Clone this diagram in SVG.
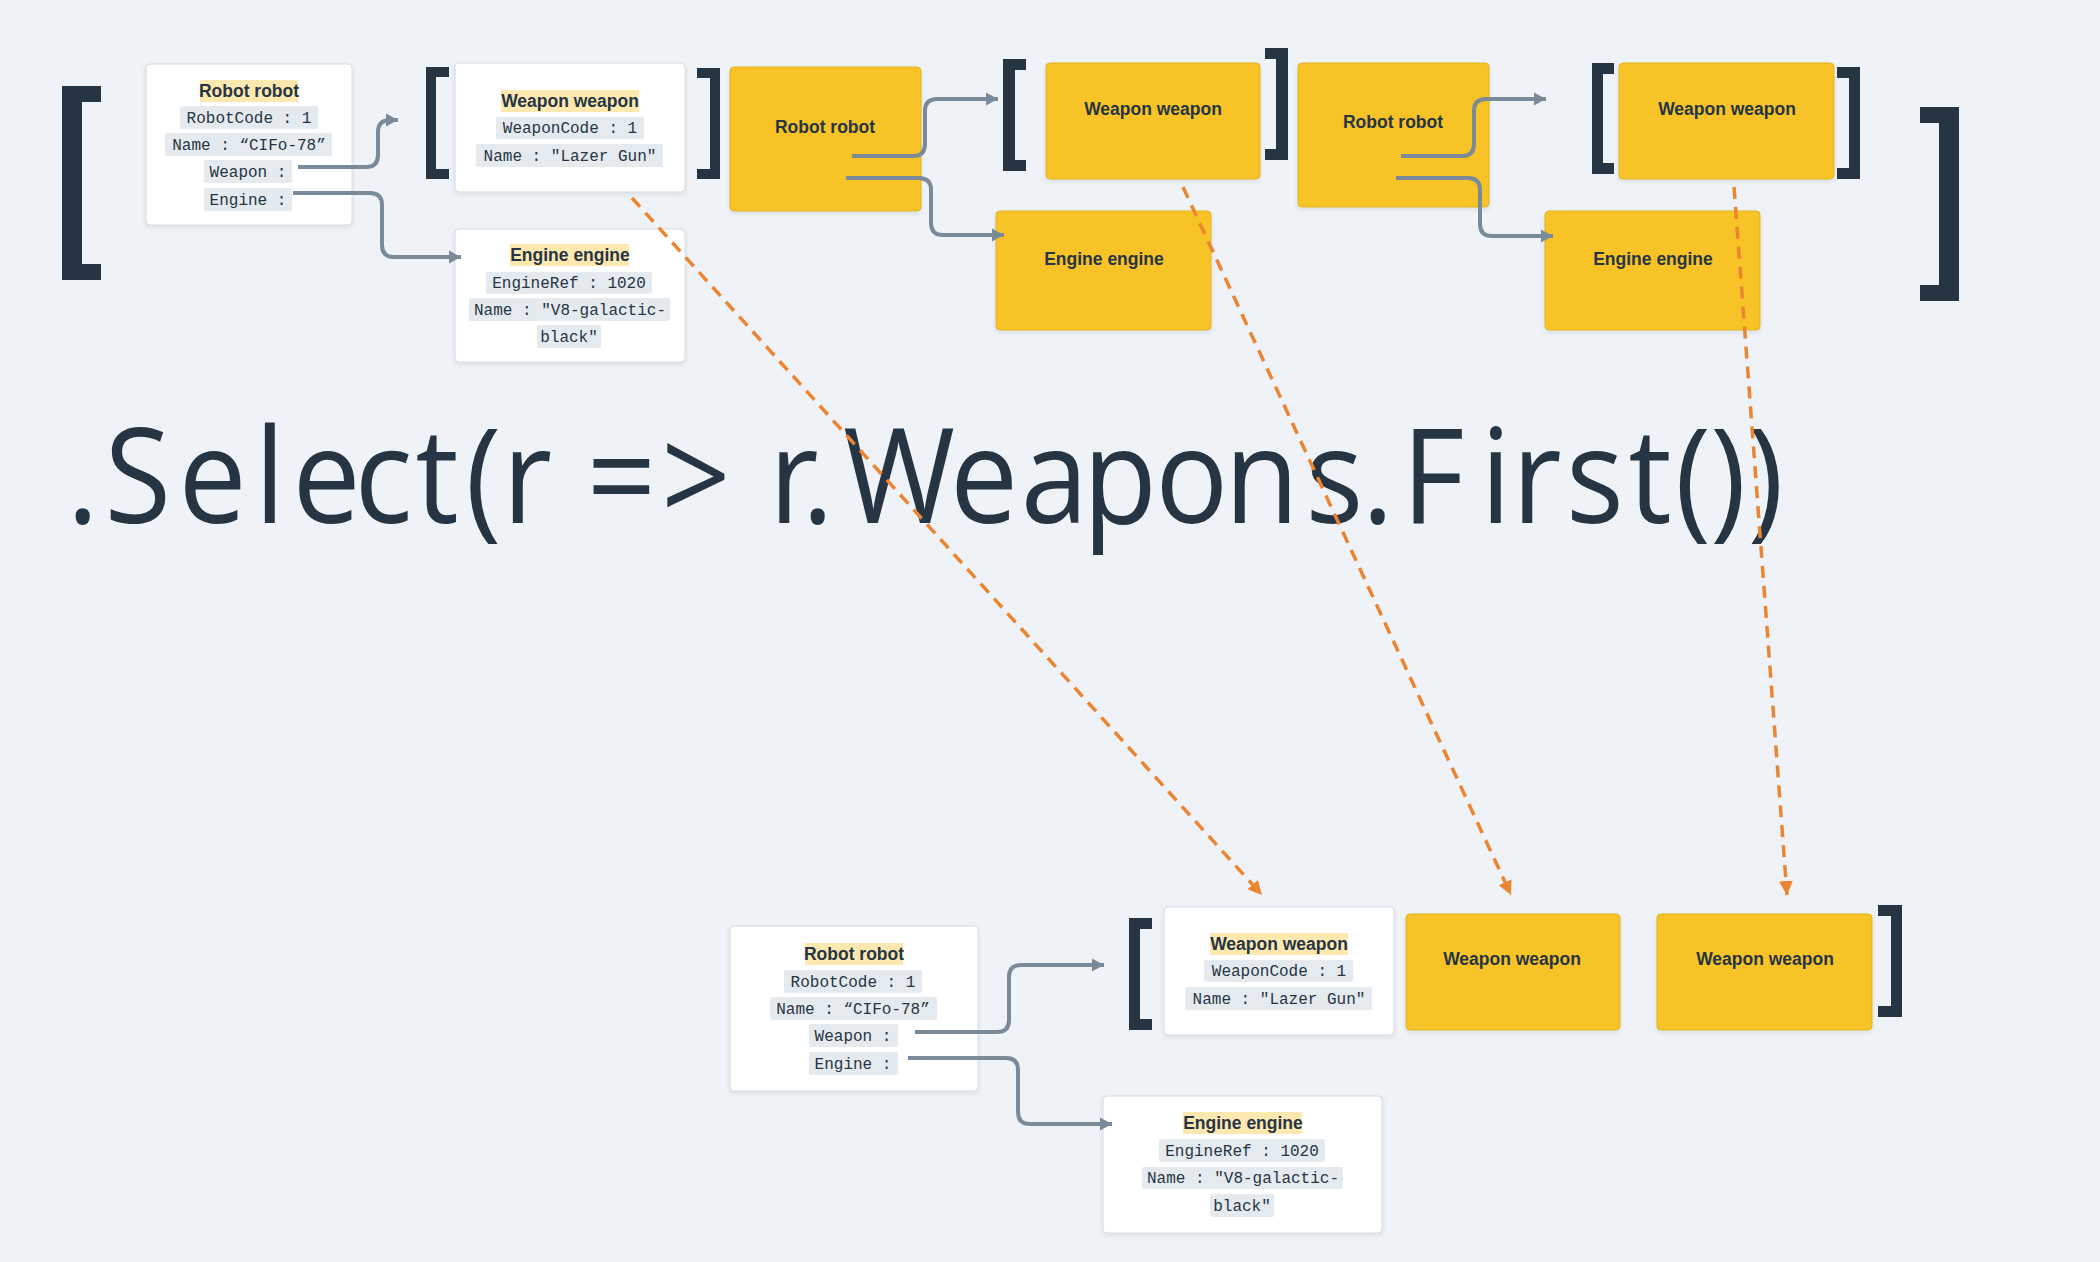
<svg xmlns="http://www.w3.org/2000/svg" width="2100" height="1262" viewBox="0 0 2100 1262">
<defs>
<filter id="sh" x="-10%" y="-10%" width="120%" height="130%">
<feDropShadow dx="0" dy="2" stdDeviation="2" flood-color="#1f2d3a" flood-opacity="0.10"/>
</filter>
<marker id="ga" markerUnits="userSpaceOnUse" markerWidth="14" markerHeight="14" refX="12" refY="6.5" orient="auto" viewBox="0 0 14 13">
<path d="M0,0 L12,6.5 L0,13 z" fill="#7b8a99"/>
</marker>
<marker id="oa" markerUnits="userSpaceOnUse" markerWidth="16" markerHeight="16" refX="14" refY="7" orient="auto" viewBox="0 0 16 14">
<path d="M0,0 L14,7 L0,14 z" fill="#ec8532"/>
</marker>
</defs>
<style>
.wc{fill:#ffffff;stroke:#d6dbe0;stroke-width:1;filter:url(#sh)}
.yc{fill:#f7c325;stroke:#e2b322;stroke-width:1;filter:url(#sh)}
.hl{fill:#fde9b0}
.mb{fill:#e5eaef}
.br{fill:#263544}
.t{font-family:"Liberation Sans",Arial,sans-serif;font-weight:700;font-size:17.5px;fill:#263544;text-anchor:middle}
.m{font-family:"Liberation Mono","Courier New",monospace;font-size:16px;fill:#263544;text-anchor:middle}
.big{font-family:"Open Sans","Noto Sans",sans-serif;font-size:132px;fill:#263544}
.gc{fill:none;stroke:#7b8a99;stroke-width:4;marker-end:url(#ga)}
.oc{fill:none;stroke:#ec8532;stroke-width:3.5;stroke-dasharray:12 8;marker-end:url(#oa)}
</style>
<rect x="0" y="0" width="2100" height="1262" fill="#eff3f7"/>

<g id="brackets">
<path class="br" d="M62,86 H101 V102 H82 V264 H101 V280 H62 Z"/>
<path class="br" d="M1959,107 H1920 V123 H1939 V285 H1920 V301 H1959 Z"/>
<path class="br" d="M426,67 H449 V77 H436 V169 H449 V179 H426 Z"/>
<path class="br" d="M720,68 H697 V78 H710 V169 H697 V179 H720 Z"/>
<path class="br" d="M1003,59 H1026 V70 H1015 V160 H1026 V171 H1003 Z"/>
<path class="br" d="M1288,48 H1265 V59 H1276 V149 H1265 V160 H1288 Z"/>
<path class="br" d="M1592,63 H1614 V74 H1603 V163 H1614 V174 H1592 Z"/>
<path class="br" d="M1860,67 H1837 V78 H1849 V168 H1837 V179 H1860 Z"/>
<path class="br" d="M1129,918 H1152 V929 H1140 V1019 H1152 V1030 H1129 Z"/>
<path class="br" d="M1902,905 H1878 V916 H1891 V1006 H1878 V1017 H1902 Z"/>
</g>

<g id="robot-top">
<rect class="wc" x="146" y="64" width="206" height="161" rx="4"/>
<rect class="hl" x="200" y="80" width="98" height="22"/>
<text class="t" x="249" y="97">Robot robot</text>
<rect class="mb" x="180" y="106" width="138" height="23" rx="2"/>
<text class="m" x="249" y="123">RobotCode : 1</text>
<rect class="mb" x="165" y="133" width="167" height="23" rx="2"/>
<text class="m" x="249" y="150">Name : “CIFo-78”</text>
<rect class="mb" x="204" y="160" width="88" height="23" rx="2"/>
<text class="m" x="248" y="177">Weapon :</text>
<rect class="mb" x="204" y="188" width="88" height="23" rx="2"/>
<text class="m" x="248" y="205">Engine :</text>
</g>

<g id="weapon-top">
<rect class="wc" x="455" y="63" width="230" height="129" rx="4"/>
<rect class="hl" x="501" y="90" width="138" height="22"/>
<text class="t" x="570" y="107">Weapon weapon</text>
<rect class="mb" x="496" y="117" width="148" height="22" rx="2"/>
<text class="m" x="570" y="133">WeaponCode : 1</text>
<rect class="mb" x="476" y="144" width="187" height="23" rx="2"/>
<text class="m" x="570" y="161">Name : "Lazer Gun"</text>
</g>

<g id="engine-top">
<rect class="wc" x="455" y="229" width="230" height="133" rx="4"/>
<rect class="hl" x="510" y="244" width="119" height="22"/>
<text class="t" x="570" y="261">Engine engine</text>
<rect class="mb" x="486" y="272" width="166" height="22" rx="2"/>
<text class="m" x="569" y="288">EngineRef : 1020</text>
<rect class="mb" x="469" y="298" width="201" height="23" rx="2"/>
<text class="m" x="570" y="315">Name : "V8-galactic-</text>
<rect class="mb" x="537" y="325" width="64" height="23" rx="2"/>
<text class="m" x="569" y="342">black"</text>
</g>

<g id="robot-y1">
<rect class="yc" x="730" y="67" width="191" height="144" rx="4"/>
<text class="t" x="825" y="133">Robot robot</text>
</g>
<g id="weapon-y1">
<rect class="yc" x="1046" y="63" width="214" height="116" rx="4"/>
<text class="t" x="1153" y="115">Weapon weapon</text>
</g>
<g id="engine-y1">
<rect class="yc" x="996" y="211" width="215" height="119" rx="4"/>
<text class="t" x="1104" y="265">Engine engine</text>
</g>
<g id="robot-y2">
<rect class="yc" x="1298" y="63" width="191" height="144" rx="4"/>
<text class="t" x="1393" y="128">Robot robot</text>
</g>
<g id="weapon-y2">
<rect class="yc" x="1619" y="63" width="215" height="116" rx="4"/>
<text class="t" x="1727" y="115">Weapon weapon</text>
</g>
<g id="engine-y2">
<rect class="yc" x="1545" y="211" width="215" height="119" rx="4"/>
<text class="t" x="1653" y="265">Engine engine</text>
</g>

<g id="robot-bottom">
<rect class="wc" x="730" y="926" width="248" height="165" rx="4"/>
<rect class="hl" x="805" y="943" width="98" height="22"/>
<text class="t" x="854" y="960">Robot robot</text>
<rect class="mb" x="784" y="970" width="138" height="23" rx="2"/>
<text class="m" x="853" y="987">RobotCode : 1</text>
<rect class="mb" x="770" y="997" width="167" height="23" rx="2"/>
<text class="m" x="853" y="1014">Name : “CIFo-78”</text>
<rect class="mb" x="809" y="1024" width="89" height="23" rx="2"/>
<text class="m" x="853" y="1041">Weapon :</text>
<rect class="mb" x="809" y="1052" width="89" height="23" rx="2"/>
<text class="m" x="853" y="1069">Engine :</text>
</g>

<g id="weapon-bottom">
<rect class="wc" x="1164" y="907" width="230" height="128" rx="4"/>
<rect class="hl" x="1210" y="933" width="138" height="22"/>
<text class="t" x="1279" y="950">Weapon weapon</text>
<rect class="mb" x="1204" y="960" width="149" height="22" rx="2"/>
<text class="m" x="1279" y="976">WeaponCode : 1</text>
<rect class="mb" x="1185" y="987" width="187" height="23" rx="2"/>
<text class="m" x="1279" y="1004">Name : "Lazer Gun"</text>
</g>

<g id="engine-bottom">
<rect class="wc" x="1103" y="1096" width="279" height="137" rx="4"/>
<rect class="hl" x="1183" y="1112" width="119" height="22"/>
<text class="t" x="1243" y="1129">Engine engine</text>
<rect class="mb" x="1159" y="1139" width="166" height="23" rx="2"/>
<text class="m" x="1242" y="1156">EngineRef : 1020</text>
<rect class="mb" x="1142" y="1167" width="201" height="22" rx="2"/>
<text class="m" x="1243" y="1183">Name : "V8-galactic-</text>
<rect class="mb" x="1210" y="1194" width="64" height="23" rx="2"/>
<text class="m" x="1242" y="1211">black"</text>
</g>

<g id="weapon-yb1">
<rect class="yc" x="1406" y="914" width="214" height="116" rx="4"/>
<text class="t" x="1512" y="965">Weapon weapon</text>
</g>
<g id="weapon-yb2">
<rect class="yc" x="1657" y="914" width="215" height="116" rx="4"/>
<text class="t" x="1765" y="965">Weapon weapon</text>
</g>

<text id="caption" class="big" transform="scale(0.92 1)" y="523" x="72.6 113.7 194 276.6 317.9 385.2 451.5 505.9 546.1 650 637.7 718.7 830 835.8 871.5 916.3 1032.6 1109.5 1176.9 1255.8 1331 1419.1 1480.2 1523.6 1609.3 1643.4 1702.3 1770 1820.6 1858.9 1899.7">.Select(r =&gt; r.Weapons.First())</text>

<g id="connectors">
<path class="gc" d="M298,167 H366 Q378,167 378,155 V132 Q378,120 390,120 H398"/>
<path class="gc" d="M293,193 H370 Q382,193 382,205 V245 Q382,257 394,257 H461"/>
<path class="gc" d="M852,156 H913 Q925,156 925,144 V111 Q925,99 937,99 H998"/>
<path class="gc" d="M846,178 H919 Q931,178 931,190 V223 Q931,235 943,235 H1004"/>
<path class="gc" d="M1401,156 H1462 Q1474,156 1474,144 V111 Q1474,99 1486,99 H1546"/>
<path class="gc" d="M1396,178 H1468 Q1480,178 1480,190 V224 Q1480,236 1492,236 H1553"/>
<path class="gc" d="M915,1032 H997 Q1009,1032 1009,1020 V977 Q1009,965 1021,965 H1104"/>
<path class="gc" d="M908,1058 H1006 Q1018,1058 1018,1070 V1112 Q1018,1124 1030,1124 H1112"/>
<path class="oc" d="M632,198 L1262,895"/>
<path class="oc" d="M1183,187 L1511,895"/>
<path class="oc" d="M1734,187 L1787,895"/>
</g>
</svg>
